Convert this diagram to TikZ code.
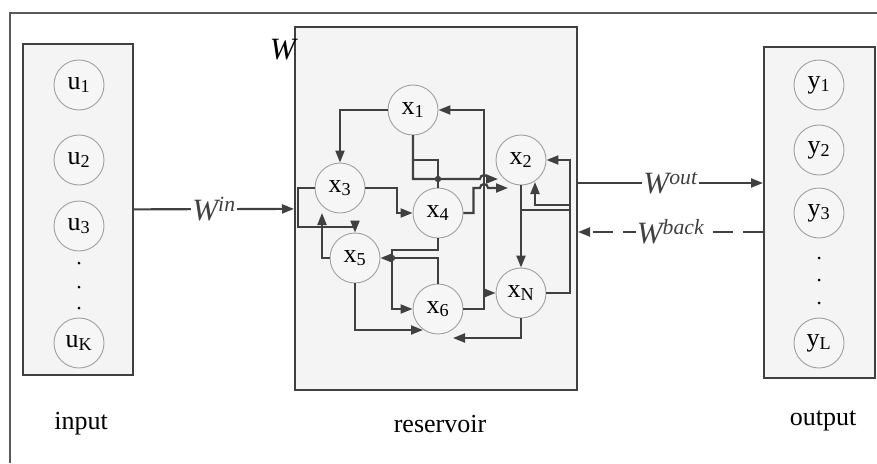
\documentclass[tikz,border=0pt]{standalone}
\usepackage{fontspec}
\setmainfont{Liberation Serif}
\usetikzlibrary{arrows.meta,positioning,calc}

\definecolor{darkline}{gray}{0.25}
\definecolor{boxfill}{gray}{0.955}
\definecolor{unitfill}{gray}{0.965}

\tikzset{
  unit/.style={circle,draw=gray!75,fill=unitfill,line width=0.9pt,minimum size=50pt,
    inner sep=0pt,font=\fontsize{26}{26}\selectfont},
  layer/.style={draw=darkline,line width=2pt,fill=boxfill,inner sep=0pt},
  wire/.style={darkline,line width=2.1pt},
  link/.style={wire,-{Triangle[length=12pt,width=9pt]}},
  wlabel/.style={fill=white,inner sep=1pt,font=\fontsize{31}{31}\selectfont\itshape},
  caption/.style={font=\fontsize{26}{26}\selectfont},
}

\begin{document}
\begin{tikzpicture}[x=1pt,y=-1pt]
  \useasboundingbox (0,0) rectangle (877,463);
  \draw[wire,gray!70!black] (10,463) -- (10,13) -- (877,13);

  % the three layers
  \node[layer,minimum width=110pt,minimum height=331pt] (inbox) at (78,209.5) {};
  \node[layer,minimum width=282pt,minimum height=363pt] (resbox) at (436,208.5) {};
  \node[layer,minimum width=111pt,minimum height=331pt] (outbox) at (819.5,212.5) {};

  % input units
  \node[unit] (u1) at (79,85) {u\textsubscript{1}};
  \node[unit] (u2) at (79,160) {u\textsubscript{2}};
  \node[unit] (u3) at (79,226) {u\textsubscript{3}};
  \node[unit] (uK) at (79,343) {u\textsubscript{K}};
  \foreach \y in {263,287,308} \fill (79,\y) circle (1.5);

  % output units
  \node[unit] (y1) at (819,85) {y\textsubscript{1}};
  \node[unit] (y2) at (819,150) {y\textsubscript{2}};
  \node[unit] (y3) at (819,213) {y\textsubscript{3}};
  \node[unit] (yL) at (819,343) {y\textsubscript{L}};
  \foreach \y in {258,280,303} \fill (819,\y) circle (1.5);

  % reservoir units
  \node[unit] (x1) at (413,110) {x\textsubscript{1}};
  \node[unit] (x2) at (521,160) {x\textsubscript{2}};
  \node[unit] (x3) at (340,188) {x\textsubscript{3}};
  \node[unit] (x4) at (438,213) {x\textsubscript{4}};
  \node[unit] (x5) at (355,258) {x\textsubscript{5}};
  \node[unit] (x6) at (438,309) {x\textsubscript{6}};
  \node[unit] (xN) at (521,293) {x\textsubscript{N}};

  \coordinate (busA) at (484,0);
  \coordinate (busR) at (570,0);
  \coordinate (inj) at (298,0);

  % internal connections
  \draw[link] (x1.west) -| (x3.north);
  \draw[link] (x6.east) -- (x6.east -| busA) |- (x1.east);
  \draw[link] (x6.east -| busA) |- (xN.west);
  \draw[link] (x1.south) |- (480,179) arc[start angle=180,end angle=360,radius=4] -- (498,179);
  \draw[wire] (x1.south) |- (x4.north |- 0,160) -- (x4.north);
  \fill[darkline] (x4.north |- 0,179) circle (3.2);
  \draw[link] (x3.east) -- (x3.east -| 397,0) |- (x4.west);
  \draw[link] (x4.east) -- ++(10,0) |- (480,188) arc[start angle=180,end angle=360,radius=4] -- (508,188);
  \draw[wire] (x3.west) -- (x3.west -| inj) -- (inj |- 0,227) -- (x5.north |- 0,227);
  \draw[link] (x5.north |- 0,221) -- (x5.north);
  \draw[link] (x5.west) -| (322,213);
  \draw[link] (x4.south) |- (392,250) |- (x6.west);
  \draw[link] (x6.north) |- (x5.east);
  \fill[darkline] (392,258) circle (3.2);
  \draw[link] (x5.south) |- (423,330);
  \draw[link] (xN.south) |- (453,338);
  \draw[link] (x2.south) -- (xN.north);
  \draw[link] (xN.east) -- (xN.east -| busR) |- (x2.east);
  \draw[link] (busR |- 0,205) -| (535,182);
  \draw[wire] (x2.south |- 0,210) -- (busR |- 0,210);

  % weights between layers
  \draw[link] (inbox) -- node[wlabel] (win) {W\textsuperscript{in}} (resbox);
  \draw[link] (resbox.east |- 0,183) -- node[wlabel] (wout) {W\textsuperscript{out}} (outbox.west |- 0,183);
  \draw[link,dash pattern=on 20pt off 10pt] (outbox.west |- 0,232) -- node[wlabel] (wback) {W\textsuperscript{back}} (resbox.east |- 0,232);
  \node[wlabel,fill=none,anchor=east] (wres) at (297,50) {W};

  % captions
  \node[caption] (lin) at (81,424) {input};
  \node[caption] (lres) at (440,424) {reservoir};
  \node[caption] (lout) at (823,421) {output};
\end{tikzpicture}
\end{document}
